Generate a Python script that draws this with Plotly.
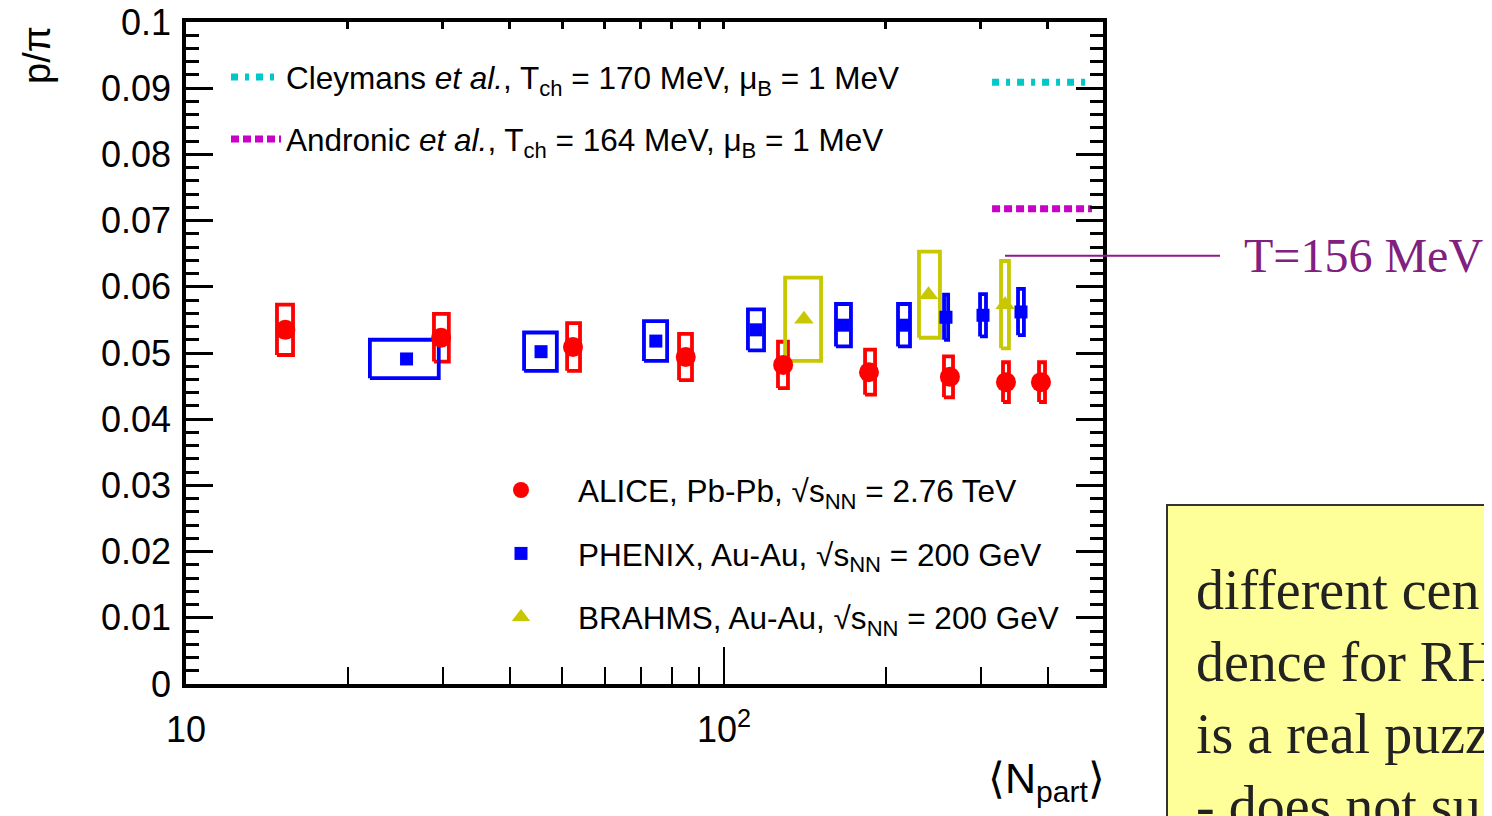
import plotly.graph_objects as go

# ---------------- data ----------------
alice_npart = [15.3, 29.8, 52.4, 84.9, 128.8, 186.0, 263.0, 334.3, 388.3]
alice_ratio = [0.0535, 0.0523, 0.0509, 0.0494, 0.0482, 0.0471, 0.0464, 0.0456, 0.0456]
alice_sys = [0.0038, 0.0036, 0.0036, 0.0035, 0.0035, 0.0034, 0.0031, 0.0030, 0.0030]
alice_npart_lo = [14.76, 28.9, 51.1, 82.5, 126.0, 182.9, 256.4, 330.1, 385.1]
alice_npart_hi = [15.81, 30.8, 54.0, 87.2, 131.5, 190.9, 266.5, 338.6, 395.1]

phenix_npart = [25.7, 45.7, 74.7, 114.7, 166.4, 216.0, 258.6, 303.0, 356.5]
phenix_ratio = [0.0491, 0.0502, 0.0518, 0.0535, 0.0542, 0.0542, 0.0554, 0.0557, 0.0562]
phenix_sys = [0.0029, 0.0029, 0.0030, 0.0031, 0.0032, 0.0032, 0.0034, 0.0032, 0.0035]
phenix_npart_lo = [21.97, 42.5, 71.0, 110.8, 161.5, 210.6, 256.5, 299.2, 352.0]
phenix_npart_hi = [29.5, 48.9, 78.4, 118.7, 172.2, 221.7, 261.0, 306.9, 361.0]

brahms_npart = [140.8, 240.0, 333.0]
brahms_ratio = [0.0551, 0.0588, 0.0573]
brahms_sys = [0.0063, 0.0065, 0.0066]
brahms_npart_lo = [129.9, 230.4, 327.3]
brahms_npart_hi = [151.5, 252.0, 338.6]

cleymans_npart = [315, 476]
cleymans_ratio = [0.0909, 0.0909]
andronic_npart = [315, 483]
andronic_ratio = [0.0718, 0.0718]

t156_ratio = 0.0647

y_tickvals = [0, 0.01, 0.02, 0.03, 0.04, 0.05, 0.06, 0.07, 0.08, 0.09, 0.1]
x_tickvals = [10, 100]
x_ticktext = ["10", "10<sup>2</sup>"]
x_minor = [20, 30, 40, 50, 60, 70, 80, 90, 200, 300, 400]

legend_labels = [
    "ALICE, Pb-Pb, \u221as<sub>NN</sub> = 2.76 TeV",
    "PHENIX, Au-Au, \u221as<sub>NN</sub> = 200 GeV",
    "BRAHMS, Au-Au, \u221as<sub>NN</sub> = 200 GeV",
]
theory_labels = [
    "Cleymans <i>et al.</i>, T<sub>ch</sub> = 170 MeV, \u03bc<sub>B</sub> = 1 MeV",
    "Andronic <i>et al.</i>, T<sub>ch</sub> = 164 MeV, \u03bc<sub>B</sub> = 1 MeV",
]
box_lines = ["different cen", "dence for RH", "is a real puzz", "- does not su"]

RED, BLUE, YEL = "#ff0000", "#0000ff", "#c8c800"
CYAN, MAG = "#00c8c8", "#c800c8"
SANS = "Liberation Sans, Arial"
SERIF = "Liberation Serif, Times New Roman"


def boxes(lo, hi, y, s):
    xs, ys = [], []
    for a, b, c, d in zip(lo, hi, y, s):
        xs += [a, b, b, a, a, None]
        ys += [c - d, c - d, c + d, c + d, c - d, None]
    return xs, ys


fig = go.Figure()

for lo, hi, y, s, col in [
    (alice_npart_lo, alice_npart_hi, alice_ratio, alice_sys, RED),
    (phenix_npart_lo, phenix_npart_hi, phenix_ratio, phenix_sys, BLUE),
    (brahms_npart_lo, brahms_npart_hi, brahms_ratio, brahms_sys, YEL),
]:
    bx, by = boxes(lo, hi, y, s)
    fig.add_trace(go.Scatter(x=bx, y=by, mode="lines", line=dict(color=col, width=3.8),
                             showlegend=False, hoverinfo="skip"))

fig.add_trace(go.Scatter(x=alice_npart, y=alice_ratio, mode="markers", name=legend_labels[0],
                         marker=dict(symbol="circle", size=20, color=RED),
                         legend="legend2", legendgroup="a"))
fig.add_trace(go.Scatter(x=phenix_npart, y=phenix_ratio, mode="markers", name=legend_labels[1],
                         marker=dict(symbol="square", size=13, color=BLUE),
                         legend="legend2", legendgroup="p"))
fig.add_trace(go.Scatter(x=brahms_npart, y=brahms_ratio, mode="markers", name=legend_labels[2],
                         marker=dict(symbol="triangle-up", size=17, color=YEL),
                         legend="legend2", legendgroup="b"))

fig.add_trace(go.Scatter(x=cleymans_npart, y=cleymans_ratio, mode="lines", name=theory_labels[0],
                         line=dict(color=CYAN, width=7, dash="7px,7px,4px,7px"),
                         legend="legend", legendgroup="c", xaxis="x2"))
fig.add_trace(go.Scatter(x=andronic_npart, y=andronic_ratio, mode="lines", name=theory_labels[1],
                         line=dict(color=MAG, width=7, dash="8px,4px"),
                         legend="legend", legendgroup="d"))

# page geometry: the page body adds an 8 px margin, so the figure is shrunk by it
OFF = 8
W, H = 1492 - OFF, 816 - OFF
# plot area in page pixels
L, R, T, B = 186, 1103, 22, 684
px = lambda v: (v - L) / (R - L)
py = lambda v: (B - v) / (B - T)

xr = [1, 2.7045]
fig.update_layout(
    width=W, height=H, autosize=False,
    margin=dict(l=L - OFF, r=W - (R - OFF), t=T - OFF, b=H - (B - OFF), pad=0),
    paper_bgcolor="white", plot_bgcolor="white",
    font=dict(family=SANS, color="black", size=36),
    xaxis=dict(type="log", range=xr, showgrid=False, zeroline=False, automargin=False,
               showline=True, linewidth=3.5, linecolor="black", mirror=True,
               ticks="inside", ticklen=37, tickwidth=2, tickcolor="black",
               tickvals=x_tickvals, ticktext=x_ticktext,
               tickfont=dict(size=36), ticklabelstandoff=11, ticklabeloverflow="allow",
               minor=dict(ticks="inside", ticklen=17, tickwidth=2, tickcolor="black",
                          tickvals=x_minor, showgrid=False)),
    xaxis2=dict(type="log", range=xr, overlaying="x", side="top", matches="x",
                showgrid=False, zeroline=False, showline=False, showticklabels=False,
                automargin=False,
                ticks="inside", ticklen=7, tickwidth=2.5, tickcolor="black",
                tickvals=x_tickvals,
                minor=dict(ticks="inside", ticklen=7, tickwidth=2.5, tickcolor="black",
                           tickvals=x_minor, showgrid=False)),
    yaxis=dict(range=[0, 0.1], showgrid=False, zeroline=False, automargin=False,
               showline=True, linewidth=3.5, linecolor="black", mirror="ticks",
               ticks="inside", ticklen=27, tickwidth=3, tickcolor="black",
               tickvals=y_tickvals, tickfont=dict(size=36), ticklabelstandoff=4,
               ticklabeloverflow="allow",
               minor=dict(ticks="inside", ticklen=13, tickwidth=2.5, tickcolor="black",
                          dtick=0.002, showgrid=False)),
    legend=dict(x=px(226), y=py(50), xanchor="left", yanchor="top",
                bgcolor="rgba(0,0,0,0)", font=dict(family=SANS, size=31.5),
                tracegroupgap=18, itemwidth=50),
    legend2=dict(x=px(464), y=py(463), xanchor="left", yanchor="top",
                 bgcolor="rgba(0,0,0,0)", font=dict(family=SANS, size=31.5),
                 tracegroupgap=19.5, itemwidth=104),
)

# T = 156 MeV marker line and label
fig.add_shape(type="line", xref="paper", yref="y", x0=px(1005), x1=px(1220),
              y0=t156_ratio, y1=t156_ratio, line=dict(color="#8b1c8b", width=2))
fig.add_annotation(xref="paper", yref="y", x=px(1242), y=t156_ratio, text="T=156 MeV",
                   showarrow=False, xanchor="left", yanchor="middle",
                   font=dict(family=SERIF, size=48, color="#80207f"))

# yellow comment box (cut by the page edge, as in the reference)
fig.add_shape(type="rect", xref="paper", yref="paper", x0=px(1167), x1=px(1520),
              y0=py(840), y1=py(505), fillcolor="#ffff99", line=dict(color="#333333", width=2),
              layer="below")
for i, t in enumerate(box_lines):
    fig.add_annotation(xref="paper", yref="paper", x=px(1194), y=py(590 + 72 * i), text=t,
                       showarrow=False, xanchor="left", yanchor="middle",
                       font=dict(family=SERIF, size=56, color="#222222"))

# axis titles
fig.add_annotation(xref="paper", yref="paper", x=px(37), y=py(55), text="p/\u03c0",
                   textangle=-90, showarrow=False, xanchor="center", yanchor="middle",
                   font=dict(size=38))
fig.add_annotation(xref="paper", yref="paper", x=px(1107), y=py(781),
                   text="\u27e8N<sub>part</sub>\u27e9", showarrow=False,
                   xanchor="right", yanchor="middle", font=dict(size=43))

fig.write_html("out.html")
